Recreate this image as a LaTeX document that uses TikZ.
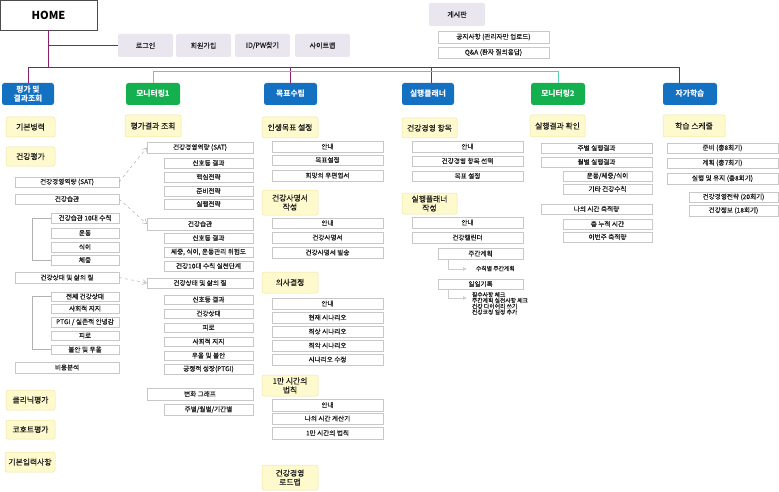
\documentclass[tikz,border=0pt]{standalone}
\usepackage{fontspec}
\setmainfont{Noto Sans CJK KR}
\newfontfamily\kmed{Noto Sans CJK KR}[FakeBold=0.35]
\usetikzlibrary{arrows.meta}
\definecolor{tblue}{RGB}{20,112,192}
\definecolor{tgreen}{RGB}{20,176,80}
\definecolor{pline}{RGB}{140,30,110}
\definecolor{tline}{RGB}{90,210,175}
\definecolor{yfill}{RGB}{255,250,206}
\definecolor{ydraw}{RGB}{240,230,165}
\definecolor{gfill}{RGB}{233,230,240}
\definecolor{wdraw}{RGB}{200,200,200}
\definecolor{txt}{RGB}{30,30,30}
\newcommand\mkbox[7]{%
  \pgfmathsetmacro\BxW{#5-#3}\pgfmathsetmacro\BxH{#6-#4}%
  \pgfmathsetmacro\BxX{(#3+#5)/2}\pgfmathsetmacro\BxY{(#4+#6)/2}%
  \node[#1, minimum width=\BxW pt, minimum height=\BxH pt] (#2) at (\BxX,\BxY) {#7};}
\tikzset{
  base/.style={inner sep=0.3pt, outer sep=0pt, align=center, text=txt},
  homebox/.style={base, draw=black!70, fill=white, line width=0.8pt, font=\fontsize{11}{12}\selectfont\bfseries, text=black},
  gbox/.style={base, fill=gfill, rounded corners=2pt, font=\kmed\fontsize{7}{8}\selectfont},
  wbox/.style={base, draw=wdraw, fill=white, line width=0.4pt, font=\kmed\fontsize{6.6}{7}\selectfont},
  ybox/.style={base, draw=ydraw, fill=yfill, line width=0.5pt, rounded corners=2pt, font=\kmed\fontsize{7.8}{9}\selectfont},
  bbox/.style={base, fill=tblue, rounded corners=2.5pt, text=white, font=\fontsize{7.8}{9}\selectfont\bfseries},
  gnbox/.style={base, fill=tgreen, rounded corners=2.5pt, text=white, font=\fontsize{7.8}{9}\selectfont\bfseries},
  pl/.style={draw=pline, line width=0.8pt},
  tl/.style={draw=tline, line width=0.8pt},
  brk/.style={draw=gray!60, line width=0.5pt},
  darr/.style={draw=gray!60, dashed, line width=0.5pt, -{Straight Barb[length=4pt,width=5pt]}},
  sarr/.style={draw=gray!40, line width=0.6pt, -{Latex[length=4pt,width=4pt]}},
  small/.style={base, inner sep=0pt, anchor=west, font=\kmed\fontsize{5.8}{5.8}\selectfont, align=left}
}
\begin{document}
\begin{tikzpicture}[x=1pt,y=-1pt]
\useasboundingbox (0,0) rectangle (779,492);
% top
\mkbox{homebox}{home}{0}{0}{97}{30}{HOME}
\mkbox{gbox}{login}{118}{34}{173}{57}{로그인}
\mkbox{gbox}{join}{176}{34}{231}{57}{회원가입}
\mkbox{gbox}{idpw}{235}{34}{290}{57}{ID/PW찾기}
\mkbox{gbox}{sitemap}{295}{34}{350}{57}{사이트맵}
\mkbox{gbox}{board}{429}{3}{485}{26}{게시판}
\mkbox{wbox}{notice}{438}{31}{549}{43}{공지사항 (관리자만 업로드)}
\mkbox{wbox}{qna}{438}{47}{549}{58}{Q\&A (환자 질의응답)}
% level 1
\mkbox{bbox}{pg}{2}{83}{54}{105}{평가 및\\결과조회}
\mkbox{gnbox}{m1}{126}{83}{180}{105}{모니터링1}
\mkbox{bbox}{mp}{264}{83}{317}{105}{목표수립}
\mkbox{bbox}{ep}{402}{83}{454}{105}{실행플래너}
\mkbox{gnbox}{m2}{531}{83}{585}{105}{모니터링2}
\mkbox{bbox}{sl}{663}{83}{717}{105}{자가학습}
% connectors top
\coordinate (bus) at (0,67);
\coordinate (tbus) at (0,71);
\draw[pl] (home.south) |- (login.west);
\draw[pl] (home.south) -- (home.south |- bus);
\draw[pl] (pg.north) -- (pg.north |- bus) -- ([xshift=-11pt]sl.north |- bus) -- ([xshift=-11pt]sl.north);
\draw[pl] (mp.north) -- (mp.north |- bus);
\draw[pl] ([xshift=3pt]ep.north) -- ([xshift=3pt]ep.north |- bus);
\draw[tl] (m1.north) -- (m1.north |- tbus) -- (m2.north |- tbus) -- (m2.north);
% col1
\mkbox{ybox}{c1a}{6}{117}{55}{137}{기본병력}
\mkbox{ybox}{c1b}{6}{147}{55}{166}{건강평가}
\mkbox{wbox}{c1sat}{15}{177}{119}{187}{건강경영역량 (SAT)}
\mkbox{wbox}{c1hab}{15}{194}{119}{204}{건강습관}
\mkbox{wbox}{c1h10}{51}{213}{119}{223}{건강습관 10대 수칙}
\mkbox{wbox}{c1ex}{51}{228}{119}{238}{운동}
\mkbox{wbox}{c1diet}{51}{242}{119}{252}{식이}
\mkbox{wbox}{c1wt}{51}{255}{119}{265}{체중}
\mkbox{wbox}{c1qol}{15}{272}{119}{283}{건강상태 및 삶의 질}
\mkbox{wbox}{c1q1}{51}{292}{119}{301}{전체 건강상태}
\mkbox{wbox}{c1q2}{51}{304}{119}{313}{사회적 지지}
\mkbox{wbox}{c1q3}{51}{317}{119}{327}{PTGI / 실존적 안녕감}
\mkbox{wbox}{c1q4}{51}{331}{119}{340}{피로}
\mkbox{wbox}{c1q5}{51}{345}{119}{354}{불안 및 우울}
\mkbox{wbox}{c1cost}{15}{362}{119}{373}{비용분석}
\mkbox{ybox}{c1c}{6}{390}{55}{410}{클리닉평가}
\mkbox{ybox}{c1d}{6}{420}{55}{439}{코호트평가}
\mkbox{ybox}{c1e}{5}{452}{55}{472}{기본입력사항}
\draw[brk] (c1h10.west) -- ++(-19,0) |- (c1wt.west);
\draw[brk] (c1q1.west) -- ++(-19,0) |- (c1q5.west);
% col2
\mkbox{ybox}{c2a}{125}{115}{181}{137}{평가결과 조회}
\mkbox{wbox}{c2sat}{147}{142}{253}{153}{건강경영역량 (SAT)}
\mkbox{wbox}{c2s1}{164}{158}{253}{168}{신호등 결과}
\mkbox{wbox}{c2s2}{164}{172}{253}{182}{핵심전략}
\mkbox{wbox}{c2s3}{164}{186}{253}{196}{준비전략}
\mkbox{wbox}{c2s4}{164}{199}{253}{209}{실행전략}
\mkbox{wbox}{c2hab}{147}{218}{253}{230}{건강습관}
\mkbox{wbox}{c2h1}{164}{233}{253}{243}{신호등 결과}
\mkbox{wbox}{c2h2}{164}{247}{253}{257}{체중, 식이, 운동관리 위험도}
\mkbox{wbox}{c2h3}{164}{261}{253}{271}{건강10대 수칙 실천단계}
\mkbox{wbox}{c2qol}{147}{278}{253}{288}{건강상태 및 삶의 질}
\mkbox{wbox}{c2q1}{164}{295}{253}{304}{신호등 결과}
\mkbox{wbox}{c2q2}{164}{309}{253}{318}{건강상태}
\mkbox{wbox}{c2q3}{164}{323}{253}{332}{피로}
\mkbox{wbox}{c2q4}{164}{337}{253}{346}{사회적 지지}
\mkbox{wbox}{c2q5}{164}{351}{253}{360}{우울 및 불안}
\mkbox{wbox}{c2q6}{164}{364}{253}{374}{긍정적 성장(PTGI)}
\mkbox{wbox}{c2gr}{147}{388}{253}{400}{변화 그래프}
\mkbox{wbox}{c2g1}{164}{404}{253}{415}{주별/월별/기간별}
\draw[darr] (c1sat.east) -- (c2sat.west);
\draw[darr] (c1hab.east) -- (c2hab.west);
\draw[darr] (c1qol.east) -- (c2qol.west);
% col3
\mkbox{ybox}{c3a}{262}{117}{318}{138}{인생목표 설정}
\mkbox{wbox}{c3a1}{272}{141}{383}{152}{안내}
\mkbox{wbox}{c3a2}{272}{155}{383}{165}{목표설정}
\mkbox{wbox}{c3a3}{272}{170}{383}{181}{희망의 우편엽서}
\mkbox{ybox}{c3b}{262}{190}{318}{215}{건강사명서\\작성}
\mkbox{wbox}{c3b1}{272}{218}{383}{228}{안내}
\mkbox{wbox}{c3b2}{272}{232}{383}{243}{건강사명서}
\mkbox{wbox}{c3b3}{272}{247}{383}{258}{건강사명서 발송}
\mkbox{ybox}{c3c}{262}{272}{318}{293}{의사결정}
\mkbox{wbox}{c3c1}{272}{298}{383}{309}{안내}
\mkbox{wbox}{c3c2}{272}{312}{383}{323}{현재 시나리오}
\mkbox{wbox}{c3c3}{272}{326}{383}{337}{최상 시나리오}
\mkbox{wbox}{c3c4}{272}{340}{383}{351}{최악 시나리오}
\mkbox{wbox}{c3c5}{272}{354}{383}{365}{시나리오 수정}
\mkbox{ybox}{c3d}{262}{375}{318}{396}{1만 시간의\\법칙}
\mkbox{wbox}{c3d1}{272}{399}{383}{411}{안내}
\mkbox{wbox}{c3d2}{272}{413}{383}{424}{나의 시간 계산기}
\mkbox{wbox}{c3d3}{272}{427}{383}{439}{1만 시간의 법칙}
\mkbox{ybox}{c3e}{262}{465}{318}{490}{건강경영\\로드맵}
% col4
\mkbox{ybox}{c4a}{402}{118}{457}{138}{건강경영 항목}
\mkbox{wbox}{c4a1}{412}{141}{523}{152}{안내}
\mkbox{wbox}{c4a2}{412}{156}{523}{166}{건강경영 항목 선택}
\mkbox{wbox}{c4a3}{412}{171}{523}{181}{목표 설정}
\mkbox{ybox}{c4b}{402}{193}{457}{214}{실행플래너\\작성}
\mkbox{wbox}{c4b1}{412}{217}{523}{228}{안내}
\mkbox{wbox}{c4b2}{412}{232}{523}{243}{건강캘린더}
\mkbox{wbox}{c4b3}{438}{248}{523}{259}{주간계획}
\mkbox{wbox}{c4b4}{438}{279}{523}{289}{일일기록}
\node[small] (c4t1) at (476,268.5) {수칙별 주간계획};
\node[small, anchor=north west] (c4t2) at (472,292) {필수사항 체크\\주간계획 실천사항 체크\\건강 다이어리 쓰기\\건강코칭 일정 추가};
\coordinate (c4e1) at (467,269);
\coordinate (c4e2) at (467,298);
\draw[sarr] ([xshift=10pt]c4b3.south west) |- (c4e1);
\draw[sarr] ([xshift=10pt]c4b4.south west) |- (c4e2);
% col5
\mkbox{ybox}{c5a}{530}{115}{585}{137}{실행결과 확인}
\mkbox{wbox}{c5a1}{541}{143}{652}{153}{주별 실행결과}
\mkbox{wbox}{c5a2}{541}{157}{652}{167}{월별 실행결과}
\mkbox{wbox}{c5a3}{563}{171}{652}{181}{운동/체중/식이}
\mkbox{wbox}{c5a4}{563}{184}{652}{194}{기타 건강수칙}
\mkbox{wbox}{c5b}{541}{204}{652}{214}{나의 시간 축적량}
\mkbox{wbox}{c5b1}{563}{219}{652}{229}{총 누적 시간}
\mkbox{wbox}{c5b2}{563}{232}{652}{242}{이번주 축적량}
% col6
\mkbox{ybox}{c6a}{663}{115}{725}{137}{학습 스케줄}
\mkbox{wbox}{c6a1}{667}{143}{778}{153}{준비 (총8회기)}
\mkbox{wbox}{c6a2}{667}{158}{778}{168}{계획 (총7회기)}
\mkbox{wbox}{c6a3}{667}{173}{778}{184}{실행 및 유지 (총8회기)}
\mkbox{wbox}{c6a4}{689}{192}{778}{202}{건강경영전략 (20회기)}
\mkbox{wbox}{c6a5}{689}{205}{778}{216}{건강정보 (18회기)}
\end{tikzpicture}
\end{document}
